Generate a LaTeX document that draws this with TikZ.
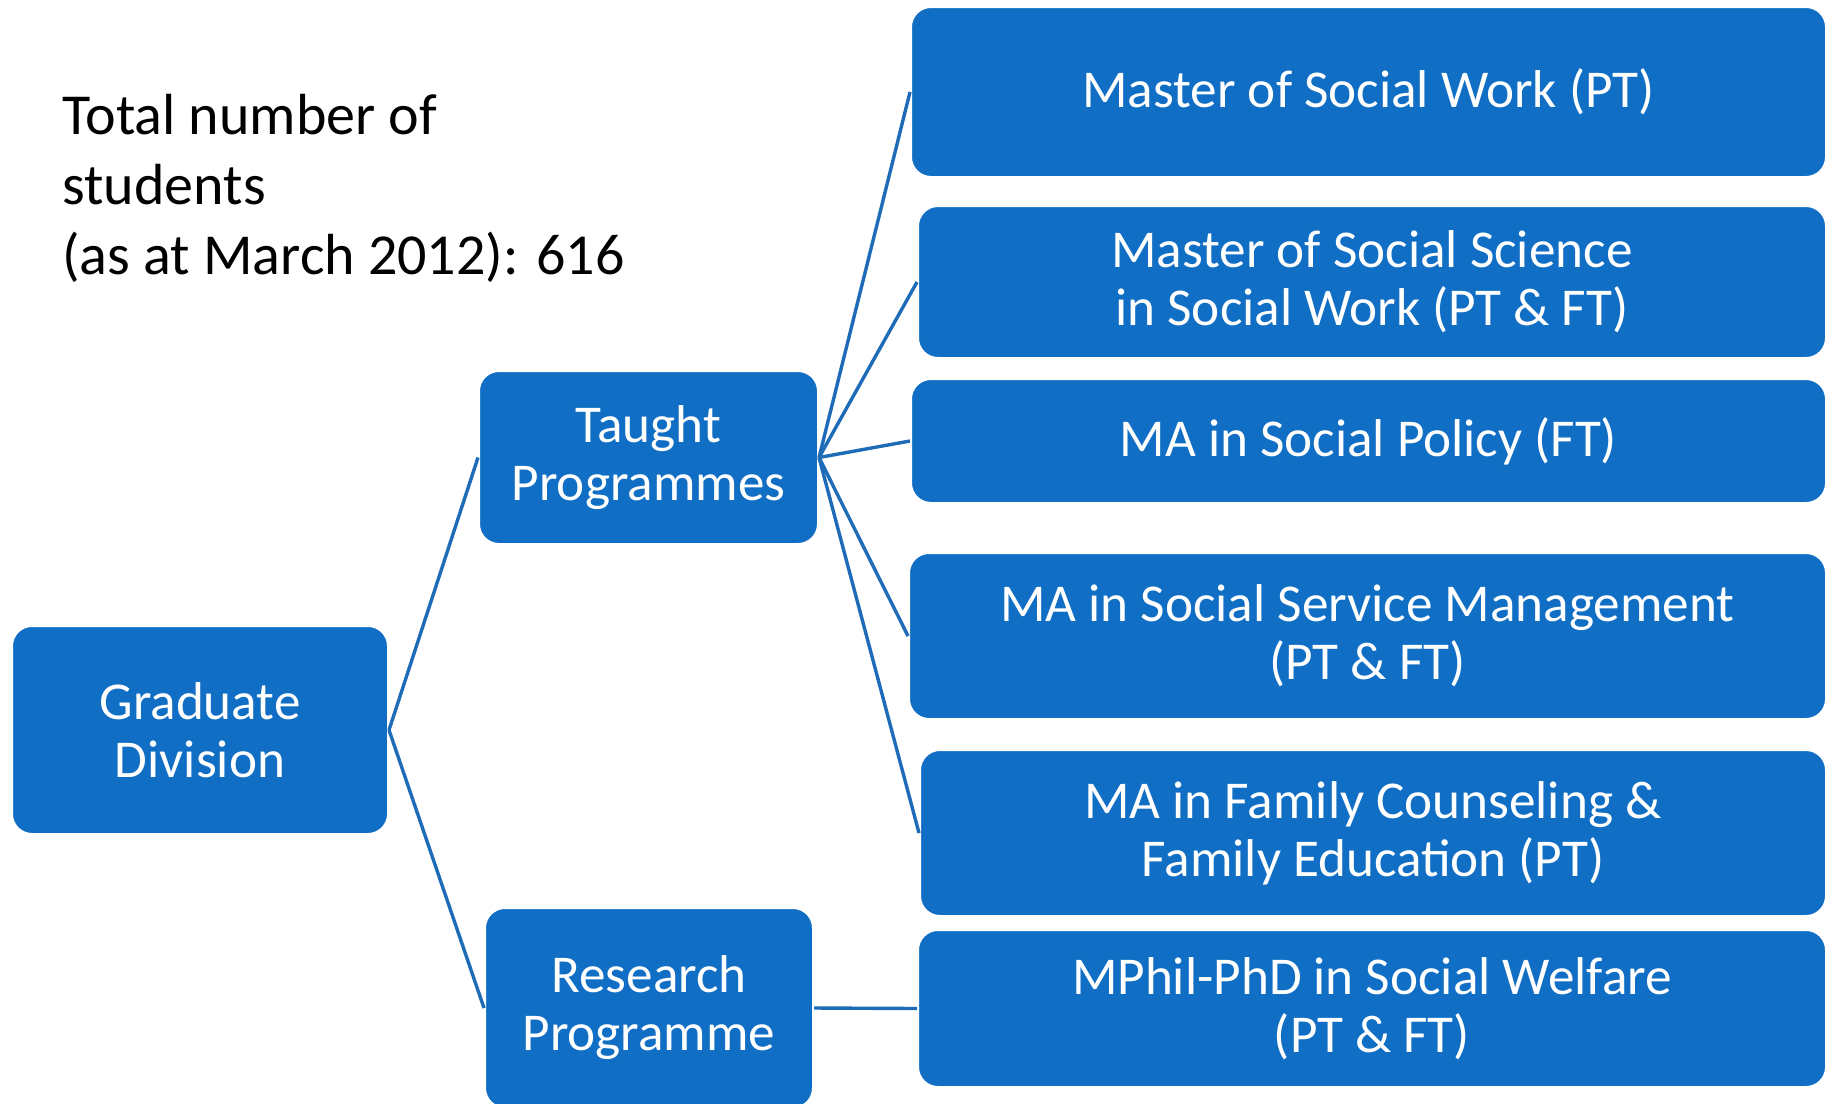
\documentclass[tikz,border=0pt]{standalone}
\usepackage{fontspec}
\setmainfont{Carlito}
\definecolor{boxblue}{HTML}{106EC5}
\definecolor{lineblue}{HTML}{1E6CB8}
\begin{document}
\begin{tikzpicture}[x=0.5pt,y=-0.5pt,
  prog/.style={fill=boxblue, draw=white, line width=1pt, rounded corners=10pt,
    text=white, align=center, inner sep=0pt,
    font=\fontsize{26.6}{29}\selectfont},
  conn/.style={draw=lineblue, line width=1.7pt}]
\useasboundingbox[fill=white] (0,0) rectangle (1829,1103);

\node[anchor=west, align=left, inner sep=0pt, text=black,
  font=\fontsize{29}{35}\selectfont] (total) at (62,188)
  {Total number of\\students\\(as at March 2012): 616};

\node[prog, minimum width=188pt, minimum height=104pt] (gd) at (200,730) {Graduate\\Division};
\node[prog, minimum width=169.5pt, minimum height=86.5pt] (tp) at (648.5,457.5) {Taught\\Programmes};
\node[prog, minimum width=164pt, minimum height=100pt] (rp) at (649,1008) {Research\\Programme};

\node[prog, minimum width=457.5pt, minimum height=85pt] (msw) at (1368.5,92) {Master of Social Work (PT)};
\node[prog, minimum width=454pt, minimum height=76pt] (mss) at (1372,282) {Master of Social Science\\in Social Work (PT \& FT)};
\node[prog, minimum width=457.5pt, minimum height=62pt] (map) at (1368.5,441) {MA in Social Policy (FT)};
\node[prog, minimum width=458.5pt, minimum height=83pt] (masm) at (1367.5,636) {MA in Social Service Management\\(PT \& FT)};
\node[prog, minimum width=453pt, minimum height=83pt] (mafc) at (1373,833) {MA in Family Counseling \&\\Family Education (PT)};
\node[prog, minimum width=454pt, minimum height=78.5pt] (mph) at (1372,1008.5) {MPhil-PhD in Social Welfare\\(PT \& FT)};

\draw[conn] (gd.east) -- (tp.west);
\draw[conn] (gd.east) -- (rp.west);
\draw[conn] (tp.east) -- (msw.west);
\draw[conn] (tp.east) -- (mss.west);
\draw[conn] (tp.east) -- (map.west);
\draw[conn] (tp.east) -- (masm.west);
\draw[conn] (tp.east) -- (mafc.west);
\draw[conn] (rp.east) -- (mph.west);
\end{tikzpicture}
\end{document}
